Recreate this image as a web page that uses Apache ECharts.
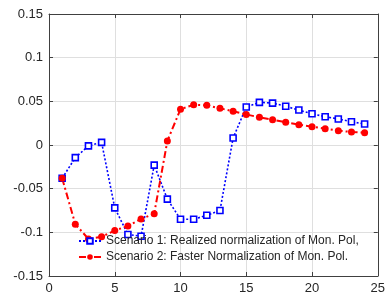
<!DOCTYPE html>
<html>
<head>
<meta charset="utf-8">
<script src="https://cdn.jsdelivr.net/npm/echarts@6/dist/echarts.min.js"></script>
<style>
  html, body { margin: 0; padding: 0; background: #fff; }
  #chart { width: 388px; height: 297px; }
</style>
</head>
<body>
<div id="chart"></div>
<script>
// 数据
const periods = [1, 2, 3, 4, 5, 6, 7, 8, 9, 10, 11, 12, 13, 14, 15, 16, 17, 18, 19, 20, 21, 22, 23, 24];
const scenario1 = [-0.038, -0.0145, -0.001, 0.003, -0.072, -0.1025, -0.1045, -0.023, -0.062, -0.085, -0.085, -0.0805,
  -0.075, 0.008, 0.0435, 0.0488, 0.048, 0.0443, 0.040, 0.0358, 0.0324, 0.0298, 0.0267, 0.024];
const scenario2 = [-0.038, -0.0907, -0.1075, -0.105, -0.098, -0.0927, -0.0847, -0.0786, 0.0046, 0.041, 0.046, 0.0454,
  0.042, 0.0386, 0.035, 0.0317, 0.029, 0.026, 0.0232, 0.021, 0.0187, 0.0164, 0.0149, 0.0141];
const xTicks = [0, 5, 10, 15, 20, 25];
const yTicks = [-0.15, -0.1, -0.05, 0, 0.05, 0.1, 0.15];
const names = [
  "Scenario 1: Realized normalization of Mon. Pol,",
  "Scenario 2: Faster Normalization of Mon. Pol.",
];

const axisColor = "#404040";
const font = "Liberation Sans, Arial, sans-serif";

const chart = echarts.init(document.getElementById("chart"));

const baseX = {
  type: "value",
  min: xTicks[0],
  max: xTicks[xTicks.length - 1],
  interval: 5,
  axisLine: { show: true, onZero: false, lineStyle: { color: axisColor, width: 1 } },
  axisTick: { show: true, inside: true, length: 4, lineStyle: { color: axisColor } },
};
const baseY = {
  type: "value",
  min: yTicks[0],
  max: yTicks[yTicks.length - 1],
  interval: 0.05,
  axisLine: { show: true, onZero: false, lineStyle: { color: axisColor, width: 1 } },
  axisTick: { show: true, inside: true, length: 4, lineStyle: { color: axisColor } },
};

chart.setOption({
  animation: false,
  backgroundColor: "#fff",
  grid: { left: 49, right: 6, top: 14, bottom: 21 },
  legend: {
    orient: "vertical",
    left: 78,
    top: 235,
    padding: 0,
    itemWidth: 22,
    itemHeight: 7,
    itemGap: 4,
    backgroundColor: "transparent",
    textStyle: { fontFamily: font, fontSize: 12, color: "#262626" },
    data: names,
  },
  xAxis: [
    Object.assign({}, baseX, {
      position: "bottom",
      axisLabel: { color: "#262626", fontFamily: font, fontSize: 13, margin: 6 },
      splitLine: { show: true, lineStyle: { color: "#dfdfdf", width: 1 } },
    }),
    Object.assign({}, baseX, {
      position: "top",
      axisLabel: { show: false },
      splitLine: { show: false },
    }),
  ],
  yAxis: [
    Object.assign({}, baseY, {
      position: "left",
      axisLabel: {
        color: "#262626", fontFamily: font, fontSize: 13, margin: 6,
        formatter: (v) => String(Math.round(v * 100) / 100),
      },
      splitLine: { show: true, lineStyle: { color: "#dfdfdf", width: 1 } },
    }),
    Object.assign({}, baseY, {
      position: "right",
      axisLabel: { show: false },
      splitLine: { show: false },
    }),
  ],
  series: [
    {
      name: names[0],
      type: "line",
      data: periods.map((p, i) => [p, scenario1[i]]),
      symbol: "rect",
      symbolSize: 6,
      showAllSymbol: true,
      lineStyle: { color: "#0000ff", width: 1.6, type: [2, 2] },
      itemStyle: { color: "#ffffff", borderColor: "#0000ff", borderWidth: 1.6 },
    },
    {
      name: names[1],
      type: "line",
      data: periods.map((p, i) => [p, scenario2[i]]),
      symbol: "circle",
      symbolSize: 7,
      showAllSymbol: true,
      lineStyle: { color: "#ff0000", width: 2, type: [7, 3, 2, 3] },
      itemStyle: { color: "#ff0000", borderColor: "#ff0000", borderWidth: 0 },
    },
  ],
});
</script>
</body>
</html>
